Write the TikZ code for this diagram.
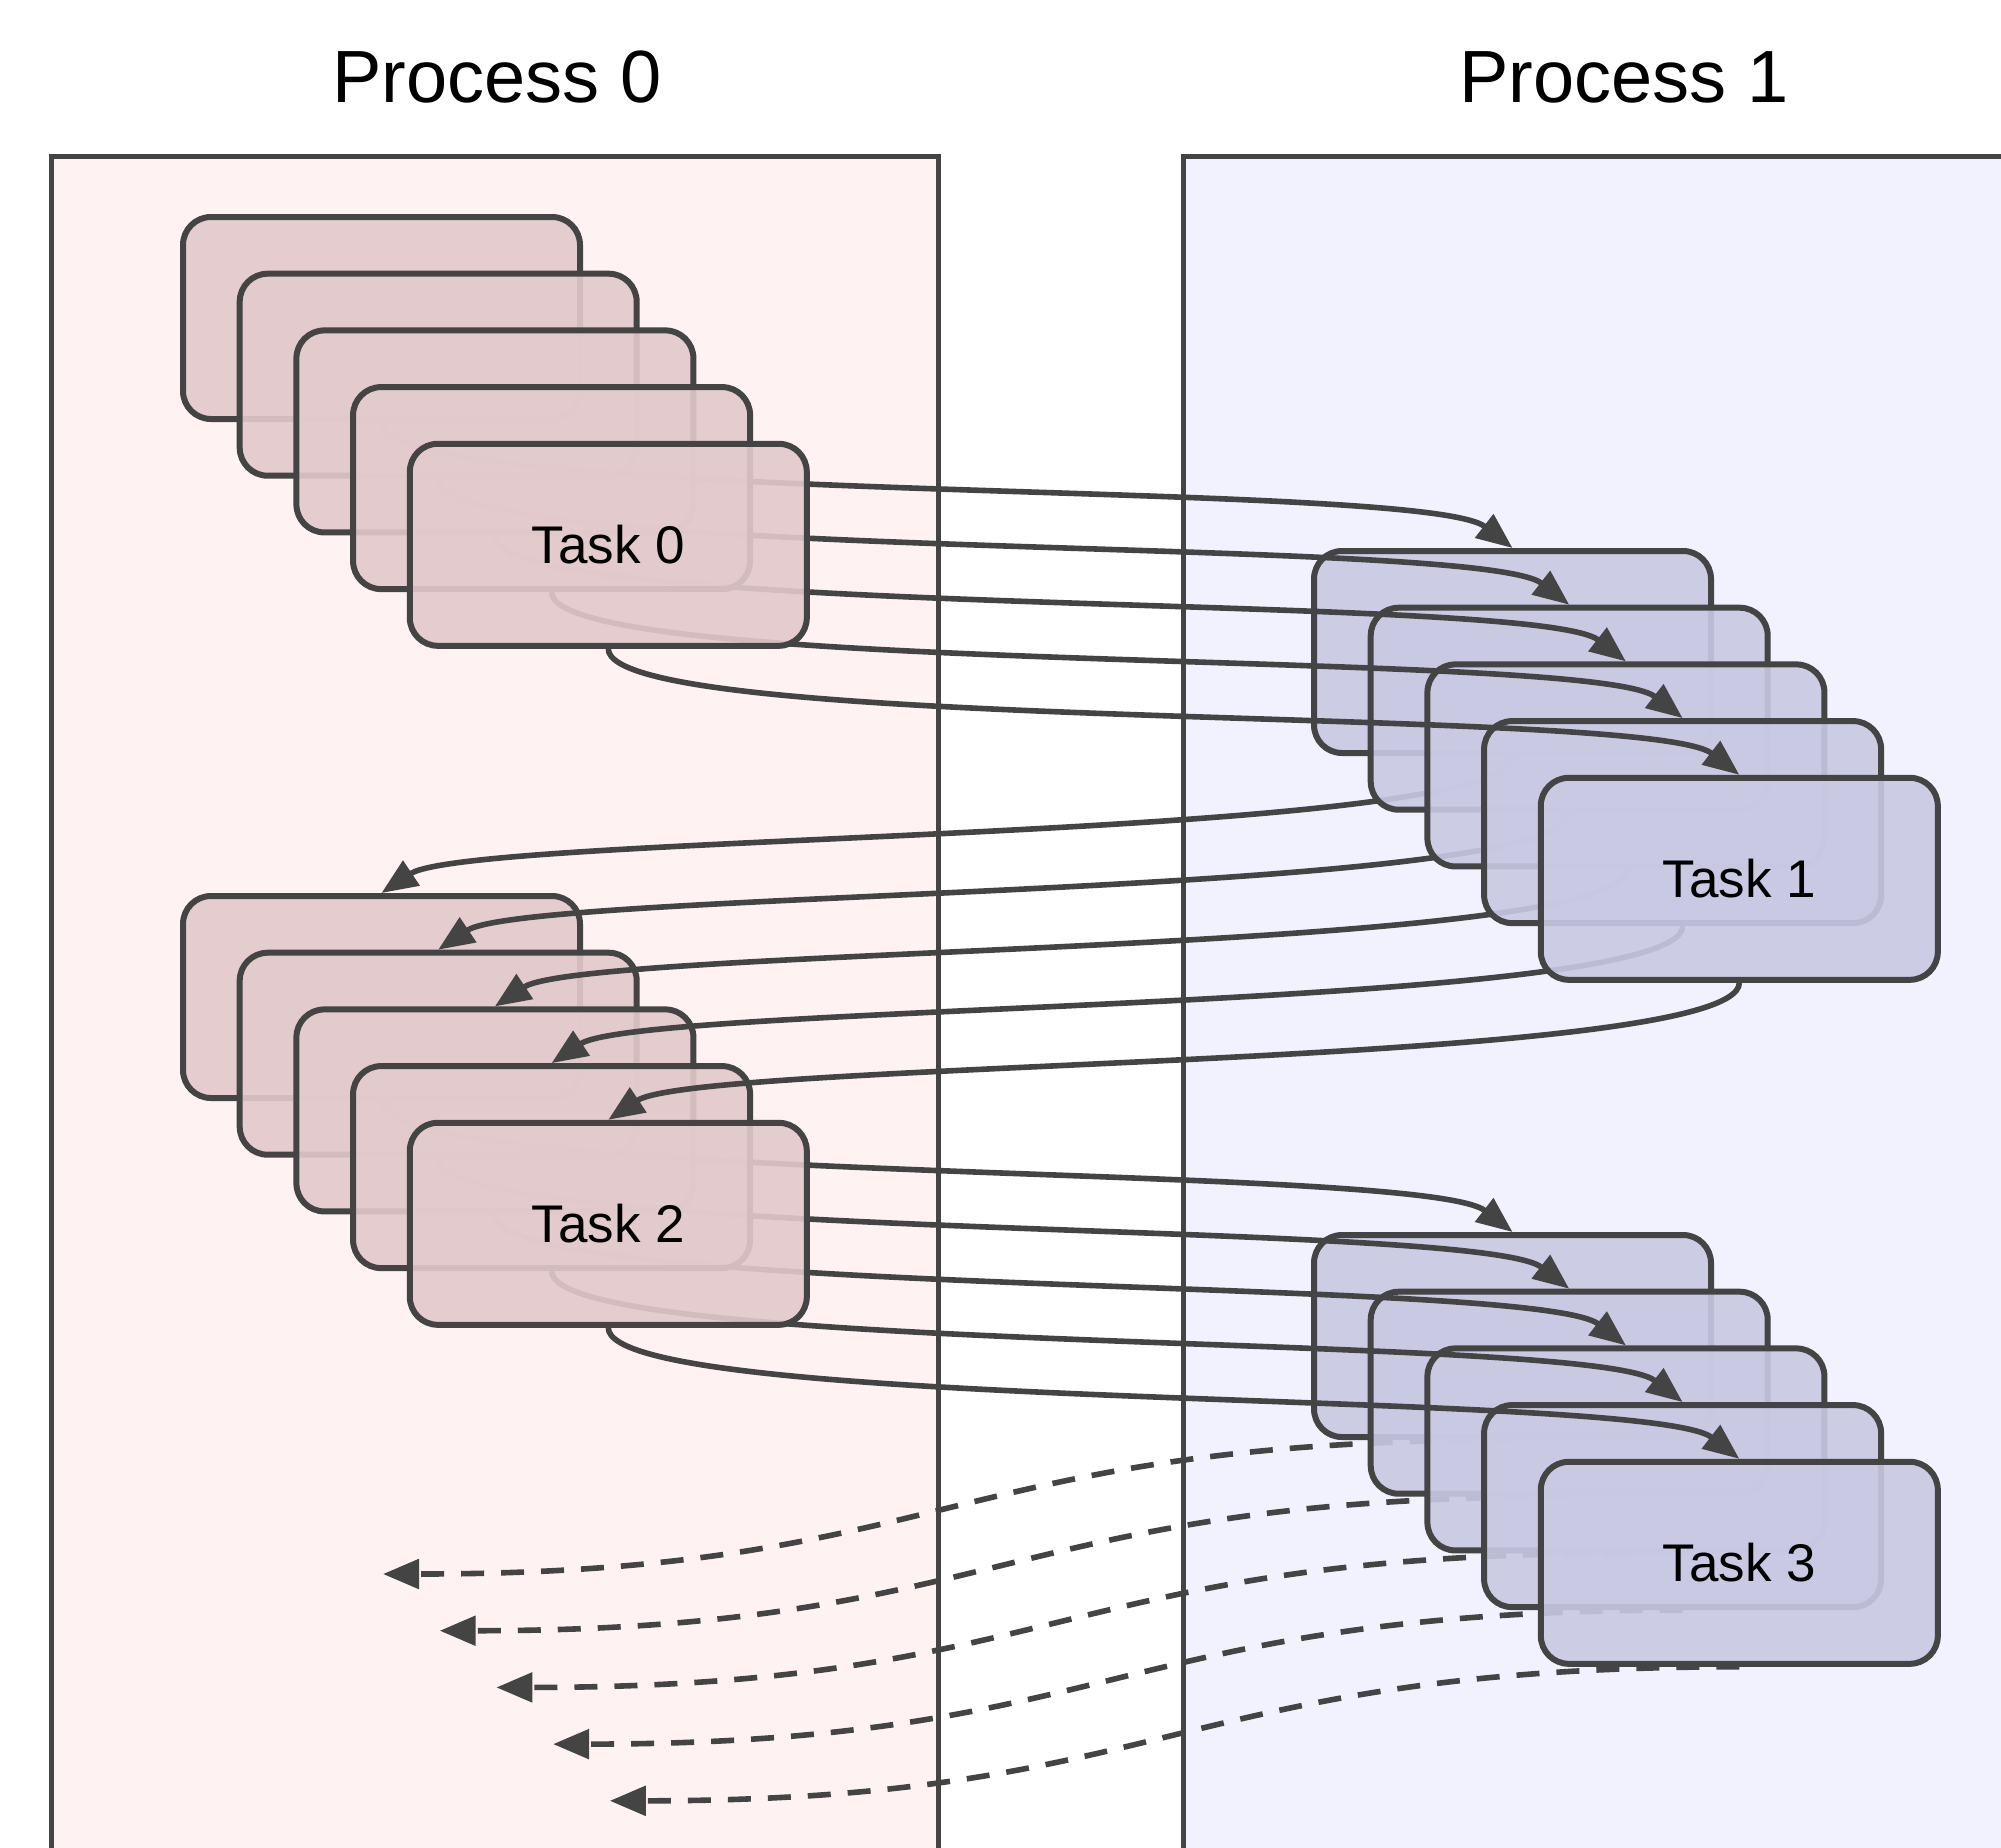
\documentclass[tikz,border=0pt]{standalone}
\usepackage{fontspec}
\setmainfont{Liberation Sans}
\usetikzlibrary{arrows.meta}
\definecolor{ink}{HTML}{444444}
\definecolor{pinkbg}{RGB}{254,242,243}
\definecolor{bluebg}{RGB}{241,242,253}
\definecolor{pinkbox}{RGB}{227,202,204}
\definecolor{bluebox}{RGB}{201,201,227}
\begin{document}
\begin{tikzpicture}[x=0.5pt,y=-0.5pt,
  panel/.style={draw=ink,line width=2.5pt},
  task/.style={draw=ink,line width=3pt,rounded corners=14pt,
    minimum width=198.5pt,minimum height=101pt,inner sep=0pt,
    fill opacity=0.9,text opacity=1,font=\fontsize{26.5}{31}\selectfont},
  pinktask/.style={task,fill=pinkbox},
  bluetask/.style={task,fill=bluebox},
  edge/.style={draw=ink,line width=2.8pt,-{Triangle[length=18pt,width=14.5pt]}},
  dedge/.style={edge,dash pattern=on 11.5pt off 8.5pt},
  title/.style={font=\fontsize{37}{44}\selectfont,anchor=base}]

\useasboundingbox (0,0) rectangle (2001,1847);
\clip (0,0) rectangle (2001,1847);
\fill[white] (0,0) rectangle (2001,1847);

% the two process lanes
\path[panel,fill=pinkbg] (51,156) rectangle (938,1920);
\path[panel,fill=bluebg] (1183,156) rectangle (2100,1920);
\node[title] (p0) at (497,102) {Process 0};
\node[title] (p1) at (1624,102) {Process 1};

% five stacked copies of each task, drawn back to front;
% the messages of each copy are drawn right after it
\foreach \i in {0,...,4}{
  \pgfmathsetmacro\d{56.7*\i}
  \node[pinktask] (a\i) at (381.5+\d,318+\d) {\ifnum\i=4 Task 0\fi};
  \node[bluetask] (b\i) at (1512.5+\d,652+\d) {\ifnum\i=4 Task 1\fi};
  \node[pinktask] (c\i) at (381.5+\d,997+\d) {\ifnum\i=4 Task 2\fi};
  \node[bluetask] (d\i) at (1512.5+\d,1336+\d) {\ifnum\i=4 Task 3\fi};
  \coordinate (e\i) at (383+\d,1574+\d);
  \draw[edge] (a\i.south) .. controls +(0,85) and +(-90,-70) .. (b\i.north);
  \draw[edge] (b\i.south) .. controls +(0,85) and +(90,-60) .. (c\i.north);
  \draw[edge] (c\i.south) .. controls +(0,85) and +(-90,-70) .. (d\i.north);
  \draw[dedge] (d\i.south) .. controls +(-565,0) and +(565,0) .. (e\i);
}
\end{tikzpicture}
\end{document}
